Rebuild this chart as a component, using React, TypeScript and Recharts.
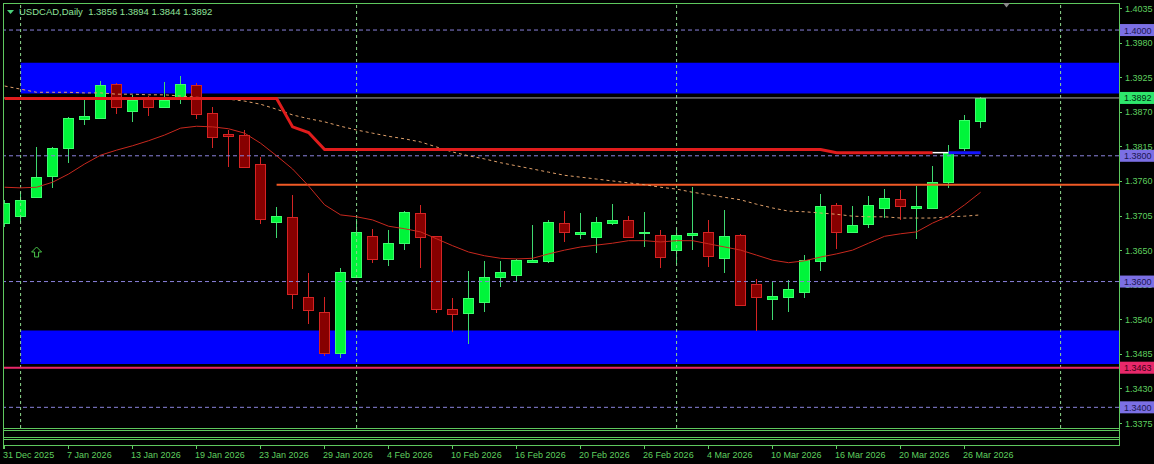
import React from 'react';
import {
  ComposedChart,
  Bar,
  Line,
  XAxis,
  YAxis,
  ReferenceLine,
  ReferenceArea,
  ReferenceDot,
} from 'recharts';

// ---------- data ----------
const dates = [
  '31 Dec 2025', '2 Jan 2026', '5 Jan 2026', '6 Jan 2026', '7 Jan 2026', '8 Jan 2026', '9 Jan 2026',
  '12 Jan 2026', '13 Jan 2026', '14 Jan 2026', '15 Jan 2026', '16 Jan 2026', '19 Jan 2026', '20 Jan 2026',
  '21 Jan 2026', '22 Jan 2026', '23 Jan 2026', '26 Jan 2026', '27 Jan 2026', '28 Jan 2026', '29 Jan 2026',
  '30 Jan 2026', '2 Feb 2026', '3 Feb 2026', '4 Feb 2026', '5 Feb 2026', '6 Feb 2026', '9 Feb 2026',
  '10 Feb 2026', '11 Feb 2026', '12 Feb 2026', '13 Feb 2026', '16 Feb 2026', '17 Feb 2026', '18 Feb 2026',
  '19 Feb 2026', '20 Feb 2026', '23 Feb 2026', '24 Feb 2026', '25 Feb 2026', '26 Feb 2026', '27 Feb 2026',
  '2 Mar 2026', '3 Mar 2026', '4 Mar 2026', '5 Mar 2026', '6 Mar 2026', '9 Mar 2026', '10 Mar 2026',
  '11 Mar 2026', '12 Mar 2026', '13 Mar 2026', '16 Mar 2026', '17 Mar 2026', '18 Mar 2026', '19 Mar 2026',
  '20 Mar 2026', '23 Mar 2026', '24 Mar 2026', '25 Mar 2026', '26 Mar 2026', '27 Mar 2026',
];

const opens = [
  1.3693, 1.3704, 1.3734, 1.3768, 1.3812, 1.3859, 1.3860, 1.3914, 1.3871, 1.3892,
  1.3878, 1.3890, 1.3913, 1.3868, 1.3835, 1.3833, 1.3787, 1.3695, 1.3703, 1.3575,
  1.3552, 1.3486, 1.3607, 1.3672, 1.3636, 1.3661, 1.3709, 1.3672, 1.3556, 1.3550,
  1.3567, 1.3607, 1.3610, 1.3631, 1.3633, 1.3693, 1.3676, 1.3671, 1.3693, 1.3698,
  1.3677, 1.3674, 1.3650, 1.3674, 1.3679, 1.3637, 1.3674, 1.3596, 1.3572, 1.3575,
  1.3583, 1.3633, 1.3722, 1.3679, 1.3691, 1.3717, 1.3731, 1.3717, 1.3717, 1.3758,
  1.3812, 1.3856,
];
const highs = [
  1.3730, 1.3742, 1.3814, 1.3814, 1.3861, 1.3889, 1.3919, 1.3916, 1.3897, 1.3895,
  1.3917, 1.3927, 1.3916, 1.3878, 1.3841, 1.3841, 1.3798, 1.3719, 1.3738, 1.3614,
  1.3575, 1.3622, 1.3699, 1.3684, 1.3682, 1.3712, 1.3722, 1.3673, 1.3574, 1.3617,
  1.3633, 1.3633, 1.3636, 1.3690, 1.3698, 1.3712, 1.3709, 1.3703, 1.3723, 1.3704,
  1.3711, 1.3682, 1.3685, 1.3750, 1.3698, 1.3714, 1.3675, 1.3604, 1.3599, 1.3602,
  1.3642, 1.3739, 1.3725, 1.3720, 1.3736, 1.3747, 1.3746, 1.3752, 1.3784, 1.3817,
  1.3865, 1.3894,
];
const lows = [
  1.3687, 1.3695, 1.3733, 1.3749, 1.3789, 1.3849, 1.3859, 1.3866, 1.3854, 1.3863,
  1.3877, 1.3882, 1.3859, 1.3812, 1.3782, 1.3781, 1.3691, 1.3669, 1.3556, 1.3532,
  1.3482, 1.3478, 1.3606, 1.3630, 1.3625, 1.3650, 1.3622, 1.3550, 1.3520, 1.3501,
  1.3552, 1.3591, 1.3599, 1.3630, 1.3630, 1.3663, 1.3668, 1.3645, 1.3690, 1.3669,
  1.3655, 1.3622, 1.3628, 1.3650, 1.3623, 1.3614, 1.3561, 1.3521, 1.3539, 1.3552,
  1.3574, 1.3617, 1.3652, 1.3677, 1.3685, 1.3701, 1.3698, 1.3668, 1.3716, 1.3749,
  1.3808, 1.3844,
];
const closes = [
  1.3725, 1.3730, 1.3766, 1.3812, 1.3860, 1.3863, 1.3913, 1.3878, 1.3889, 1.3878,
  1.3889, 1.3914, 1.3866, 1.3830, 1.3831, 1.3782, 1.3699, 1.3704, 1.3580, 1.3555,
  1.3486, 1.3615, 1.3679, 1.3636, 1.3661, 1.3711, 1.3671, 1.3556, 1.3548, 1.3574,
  1.3607, 1.3615, 1.3634, 1.3634, 1.3695, 1.3679, 1.3679, 1.3695, 1.3698, 1.3671,
  1.3679, 1.3639, 1.3674, 1.3677, 1.3641, 1.3672, 1.3563, 1.3575, 1.3577, 1.3588,
  1.3634, 1.3720, 1.3679, 1.3690, 1.3722, 1.3733, 1.3720, 1.3720, 1.3758, 1.3806,
  1.3857, 1.3892,
];

// fast moving average (thin red)
const maFast = [
  1.3750, 1.3749, 1.3750, 1.3758, 1.3771, 1.3787, 1.3801, 1.3809, 1.3816, 1.3824,
  1.3833, 1.3844, 1.3847, 1.3846, 1.3843, 1.3836, 1.3820, 1.3800, 1.3779, 1.3752,
  1.3722, 1.3706, 1.3703, 1.3698, 1.3688, 1.3684, 1.3679, 1.3668, 1.3657, 1.3647,
  1.3641, 1.3637, 1.3636, 1.3637, 1.3644, 1.3650, 1.3655, 1.3658, 1.3661, 1.3665,
  1.3665, 1.3663, 1.3665, 1.3665, 1.3660, 1.3655, 1.3650, 1.3642, 1.3634, 1.3630,
  1.3633, 1.3639, 1.3644, 1.3650, 1.3661, 1.3672, 1.3676, 1.3679, 1.3693, 1.3704,
  1.3722, 1.3742,
];
// slow moving average (dotted sand)
const maSlow = [
  1.3911, 1.3906, 1.3901, 1.3901, 1.3901, 1.3900, 1.3900, 1.3898, 1.3898, 1.3897,
  1.3897, 1.3895, 1.3893, 1.3892, 1.3890, 1.3887, 1.3882, 1.3874, 1.3865, 1.3859,
  1.3854, 1.3847, 1.3841, 1.3836, 1.3831, 1.3827, 1.3822, 1.3814, 1.3806, 1.3800,
  1.3795, 1.3789, 1.3784, 1.3779, 1.3774, 1.3769, 1.3766, 1.3763, 1.3760, 1.3757,
  1.3754, 1.3750, 1.3747, 1.3742, 1.3738, 1.3734, 1.3730, 1.3723, 1.3717, 1.3712,
  1.3711, 1.3709, 1.3707, 1.3704, 1.3703, 1.3703, 1.3701, 1.3701, 1.3701, 1.3703,
  1.3704, 1.3706,
];
// thick red stepped level
const stepLevel: (number | null)[] = [
  1.3891, 1.3891, 1.3891, 1.3891, 1.3891, 1.3891, 1.3891, 1.3891, 1.3891, 1.3891,
  1.3891, 1.3891, 1.3891, 1.3891, 1.3891, 1.3891, 1.3891, 1.3891, 1.3846, 1.3837,
  1.3810, 1.3810, 1.3810, 1.3810, 1.3810, 1.3810, 1.3810, 1.3810, 1.3810, 1.3810,
  1.3810, 1.3810, 1.3810, 1.3810, 1.3810, 1.3810, 1.3810, 1.3810, 1.3810, 1.3810,
  1.3810, 1.3810, 1.3810, 1.3810, 1.3810, 1.3810, 1.3810, 1.3810, 1.3810, 1.3810,
  1.3810, 1.3810, 1.3805, 1.3805, 1.3805, 1.3805, 1.3805, 1.3805, 1.3805, null,
  null, null,
];
const stepLevelWhite: (number | null)[] = dates.map((_, i) => (i === 58 || i === 59 ? 1.3805 : null));
const stepLevelBlue: (number | null)[] = dates.map((_, i) => (i >= 59 ? 1.3805 : null));

const priceTicks = [1.4035, 1.398, 1.3925, 1.387, 1.3815, 1.376, 1.3705, 1.365, 1.3595, 1.354, 1.3485, 1.343, 1.3375];
const dateTickIdx = [0, 4, 8, 12, 16, 20, 24, 28, 32, 36, 40, 44, 48, 52, 56, 60];
const roundLevels = [1.4, 1.38, 1.36, 1.34];
const periodStarts = [1, 22, 42, 66];
const upperZone = [1.3899, 1.3948];
const lowerZone = [1.3469, 1.3522];
const bidPrice = 1.3892;
const pinkLevel = 1.3463;
const orangeLevel = 1.3754;
const orangeStart = 17;
const zoneStart = 1;
const arrowSignal = { i: 2, price: 1.3647 };
const header = 'USDCAD,Daily  1.3856 1.3894 1.3844 1.3892';

// price boxes on the scale: level -> [background, text]
const ROUND_BOX: [string, string] = ['#7b6fe4', '#1a1650'];
const boxedLevels: { v: number; bg: string; fg: string }[] = [
  ...roundLevels.map((v) => ({ v, bg: ROUND_BOX[0], fg: ROUND_BOX[1] })),
  { v: bidPrice, bg: '#2ee66c', fg: '#002a10' },
  { v: pinkLevel, bg: '#e8286a', fg: '#3a0016' },
];

const X_DOMAIN: [number, number] = [-0.1, 69.65];
const Y_DOMAIN: [number, number] = [1.33671, 1.4043];

const rows = dates.map((d, i) => ({
  i,
  o: opens[i],
  h: highs[i],
  l: lows[i],
  c: closes[i],
  range: [lows[i], highs[i]],
  maFast: maFast[i],
  maSlow: maSlow[i],
  step: stepLevel[i],
  stepW: stepLevelWhite[i],
  stepB: stepLevelBlue[i],
}));

// ---------- styles ----------
const FONT = "'Liberation Sans', Arial, sans-serif";
const AXIS = '#5fcf5f';
const FRAME = '#5ec85e';

const Candle = (props: any) => {
  const { x, y, width, height, payload } = props;
  if (x == null || y == null || !payload) return null;
  const { o, h, l, c } = payload;
  const top = Math.min(y, y + height);
  const bot = Math.max(y, y + height);
  const ppu = (bot - top) / Math.max(h - l, 1e-9);
  const py = (p: number) => top + (h - p) * ppu;
  const cx = Math.floor(x + width / 2) + 0.5;
  const up = c >= o;
  const bTop = Math.round(py(Math.max(o, c)));
  const bBot = Math.round(py(Math.min(o, c)));
  const bh = Math.max(1, bBot - bTop);
  const wick = up ? '#3fd870' : '#d42424';
  const fill = up ? '#00f53a' : '#870000';
  const stroke = up ? '#3cff6c' : '#d42424';
  return (
    <g>
      <line x1={cx} x2={cx} y1={Math.round(top)} y2={Math.round(bot)} stroke={wick} strokeWidth={1} />
      <rect x={cx - 5} y={bTop + 0.5} width={10} height={bh} fill={fill} stroke={stroke} strokeWidth={1} />
    </g>
  );
};

const PriceTick = (props: any) => {
  const { x, y, payload } = props;
  const v = Number(payload.value);
  const boxed = boxedLevels.find((b) => Math.abs(b.v - v) < 1e-7);
  if (boxed && payload.index >= priceTicks.length) {
    return (
      <g>
        <rect x={x + 1} y={y - 6} width={35} height={12} fill={boxed.bg} />
        <text x={x + 5} y={y + 3.5} fill={boxed.fg} fontSize={9} fontFamily={FONT}>
          {v.toFixed(4)}
        </text>
      </g>
    );
  }
  if (boxed) {
    return (
      <g>
        <rect x={x + 1} y={y - 6} width={35} height={12} fill={boxed.bg} />
        <text x={x + 5} y={y + 3.5} fill={boxed.fg} fontSize={9} fontFamily={FONT}>
          {v.toFixed(4)}
        </text>
      </g>
    );
  }
  return (
    <g>
      <line x1={x} x2={x + 3} y1={Math.round(y) + 0.5} y2={Math.round(y) + 0.5} stroke={AXIS} />
      <text x={x + 6} y={y + 3.5} fill={AXIS} fontSize={9} fontFamily={FONT}>
        {v.toFixed(4)}
      </text>
    </g>
  );
};

const DateTick = (props: any) => {
  const { x, y, payload } = props;
  const xi = Math.floor(x) + 0.5;
  return (
    <g>
      <line x1={xi} x2={xi} y1={y + 17} y2={y + 21} stroke={AXIS} />
      <text x={x - 1.5} y={y + 30} fill={AXIS} fontSize={9} fontFamily={FONT} textAnchor="start">
        {dates[payload.value]}
      </text>
    </g>
  );
};

const ArrowUp = (props: any) => {
  const { cx, cy } = props;
  if (cx == null) return null;
  const pts = [
    [0, -5], [5, 0], [2, 0], [2, 5], [-2, 5], [-2, 0], [-5, 0],
  ].map(([a, b]) => `${cx + a},${cy + b}`).join(' ');
  return <polygon points={pts} fill="none" stroke="#4cc84c" strokeWidth={1} />;
};

// axis ticks: plain scale labels first, boxed price labels last so they sit on top
const yTicks = [...priceTicks, ...boxedLevels.map((b) => b.v)];

export default function App() {
  return (
    <div style={{ position: 'absolute', left: 0, top: 0, width: 1154, height: 464, background: '#000', overflow: 'hidden' }}>
      <ComposedChart
        width={1154}
        height={464}
        data={rows}
        margin={{ top: 3, right: 0, bottom: 0, left: 3 }}
        style={{ background: '#000' }}
      >
        <XAxis
          type="number"
          dataKey="i"
          domain={X_DOMAIN}
          allowDataOverflow
          ticks={dateTickIdx}
          interval={0}
          height={36}
          axisLine={false}
          tickLine={false}
          tickSize={0}
          tickMargin={0}
          tick={<DateTick />}
        />
        <YAxis
          type="number"
          orientation="right"
          domain={Y_DOMAIN}
          allowDataOverflow
          ticks={yTicks}
          interval={0}
          width={35}
          axisLine={false}
          tickLine={false}
          tickSize={0}
          tickMargin={0}
          tick={<PriceTick />}
        />

        <ReferenceArea x1={zoneStart} x2={X_DOMAIN[1]} y1={upperZone[0]} y2={upperZone[1]} fill="#0000ff" fillOpacity={1} stroke="none" />
        <ReferenceArea x1={zoneStart} x2={X_DOMAIN[1]} y1={lowerZone[0]} y2={lowerZone[1]} fill="#0000ff" fillOpacity={1} stroke="none" />

        {periodStarts.map((p) => (
          <ReferenceLine key={'v' + p} x={p} stroke="#8ed88e" strokeDasharray="3 3" strokeWidth={1} />
        ))}
        {roundLevels.map((lv) => (
          <ReferenceLine key={'h' + lv} y={lv} stroke="#8a82dc" strokeDasharray="4 3" strokeWidth={1} />
        ))}
        <ReferenceLine y={bidPrice} stroke="#a8a8a8" strokeWidth={1} />
        <ReferenceLine y={pinkLevel} stroke="#e8286a" strokeWidth={2} />
        <ReferenceLine
          segment={[{ x: orangeStart, y: orangeLevel }, { x: X_DOMAIN[1], y: orangeLevel }]}
          stroke="#f05a26"
          strokeWidth={2}
        />

        <Bar dataKey="range" barSize={11} shape={<Candle />} isAnimationActive={false} />

        <Line type="linear" dataKey="maSlow" stroke="#e0a06a" strokeWidth={1} strokeDasharray="3 3" dot={false} isAnimationActive={false} />
        <Line type="linear" dataKey="maFast" stroke="#c8281e" strokeWidth={1} dot={false} isAnimationActive={false} />
        <Line type="linear" dataKey="step" stroke="#e01c1c" strokeWidth={3} dot={false} connectNulls={false} isAnimationActive={false} />
        <Line type="linear" dataKey="stepW" stroke="#ffffff" strokeWidth={1.5} dot={false} connectNulls={false} isAnimationActive={false} />
        <Line type="linear" dataKey="stepB" stroke="#1414ff" strokeWidth={3} dot={false} connectNulls={false} isAnimationActive={false} />

        <ReferenceDot x={arrowSignal.i} y={arrowSignal.price} r={5} shape={<ArrowUp />} />
      </ComposedChart>

      <svg width={1154} height={464} style={{ position: 'absolute', left: 0, top: 0, pointerEvents: 'none' }}>
        <line x1={3.5} x2={3.5} y1={3} y2={449} stroke={FRAME} />
        <line x1={3} x2={1120} y1={3.5} y2={3.5} stroke={FRAME} />
        <line x1={1119.5} x2={1119.5} y1={3} y2={446} stroke={FRAME} />
        <line x1={3} x2={1120} y1={428.5} y2={428.5} stroke={FRAME} />
        <rect x={3.5} y={430.5} width={1116} height={7} fill="none" stroke={FRAME} />
        <rect x={3.5} y={439.5} width={1116} height={6} fill="none" stroke={FRAME} />
        <polygon points="7,10 14,10 10.5,14" fill="#4cd07a" />
        <text x={19} y={15} fill="#8fe39a" fontSize={9.5} fontFamily={FONT} style={{ whiteSpace: 'pre' }}>
          {header}
        </text>
        <polygon points="1003,3 1010,3 1006.5,7.5" fill="#8a8a8a" />
      </svg>
    </div>
  );
}
